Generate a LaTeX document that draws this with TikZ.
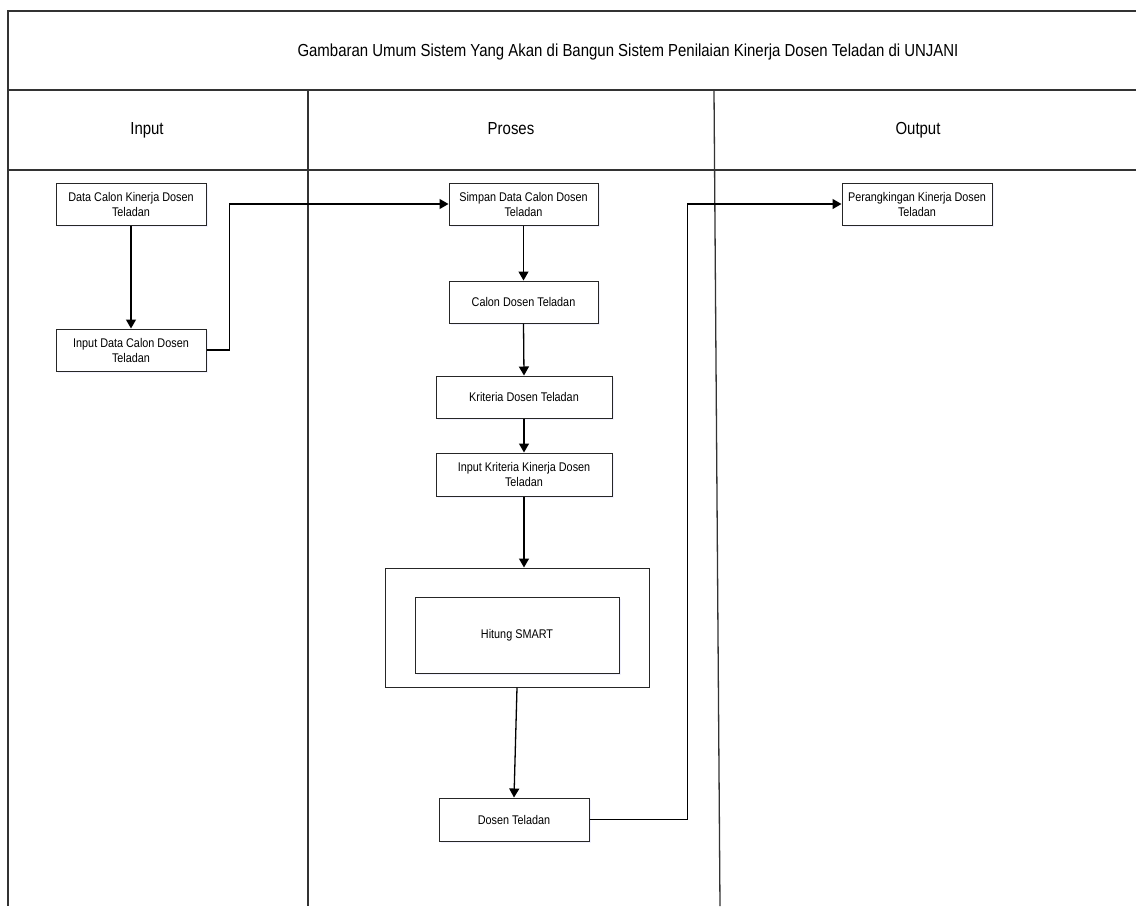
\documentclass[tikz,border=0pt]{standalone}
\usepackage{fontspec}
\setmainfont{Liberation Sans}[FakeStretch=0.86]
\usetikzlibrary{arrows.meta,shadows}
\begin{document}
\begin{tikzpicture}[x=1pt,y=-1pt,
  frame/.style={line width=1.3pt,draw=black!80},
  box/.style={draw=black!85,line width=1pt,fill=white,inner sep=0pt,align=center,
    font=\fontsize{12.6}{15}\selectfont,
    drop shadow={shadow xshift=1.5pt,shadow yshift=-2pt,fill=blue!15,opacity=0.35}},
  plainbox/.style={draw=black!85,line width=1pt,fill=white,inner sep=0pt},
  conn/.style={line width=1.3pt,draw=black},
  arr/.style={conn,-{Triangle[length=9pt,width=10pt]}},
  head/.style={font=\fontsize{17.4}{20}\selectfont,anchor=base}
]
\useasboundingbox (0,0) rectangle (1136,906);
% frame and lanes
\draw[frame] (1136,11) -- (8,11) -- (8,906);
\draw[frame] (8,90) -- (1136,90);
\draw[frame] (8,170) -- (1136,170);
\draw[frame] (308,90) -- (308,906);
\draw[frame] (714,90) -- (720,906);
\node[head] (title) at (628,56) {Gambaran Umum Sistem Yang Akan di Bangun Sistem Penilaian Kinerja Dosen Teladan di UNJANI};
\node[head] (hin) at (147,134) {Input};
\node[head] (hpr) at (511,134) {Proses};
\node[head] (hout) at (918,134) {Output};
% input lane
\node[box,minimum width=150pt,minimum height=42pt] (d1) at (131,204) {Data Calon Kinerja Dosen\\Teladan};
\node[box,minimum width=150pt,minimum height=42pt] (d2) at (131,350) {Input Data Calon Dosen\\Teladan};
% process lane
\node[box,minimum width=149pt,minimum height=42pt] (p1) at (523.5,204) {Simpan Data Calon Dosen\\Teladan};
\node[box,minimum width=149pt,minimum height=42pt] (p2) at (523.5,302) {Calon Dosen Teladan};
\node[box,minimum width=176pt,minimum height=42pt] (p3) at (524,397) {Kriteria Dosen Teladan};
\node[box,minimum width=176pt,minimum height=43pt] (p4) at (524,474.5) {Input Kriteria Kinerja Dosen\\Teladan};
\node[plainbox,minimum width=264pt,minimum height=119pt] (outer) at (517,627.5) {};
\node[box,minimum width=204pt,minimum height=76pt] (smart) at (517,635) {Hitung SMART};
\node[box,minimum width=150pt,minimum height=43pt] (p5) at (514,819.5) {Dosen Teladan};
% output lane
\node[box,minimum width=150pt,minimum height=42pt] (o1) at (917,204) {Perangkingan Kinerja Dosen\\Teladan};
% connectors
\draw[arr] (d1.south) -- (d2.north);
\draw[arr] (d2.east) -- ++(23,0) |- (p1.west);
\draw[arr] (p1.south) -- (p2.north);
\draw[arr] (p2.south) -- (p3.north);
\draw[arr] (p3.south) -- (p4.north);
\draw[arr] (p4.south) -- (p4.south |- outer.north);
\draw[arr] (outer.south) -- (p5.north);
\draw[arr] (p5.east) -- ++(98,0) |- (o1.west);
\end{tikzpicture}
\end{document}
